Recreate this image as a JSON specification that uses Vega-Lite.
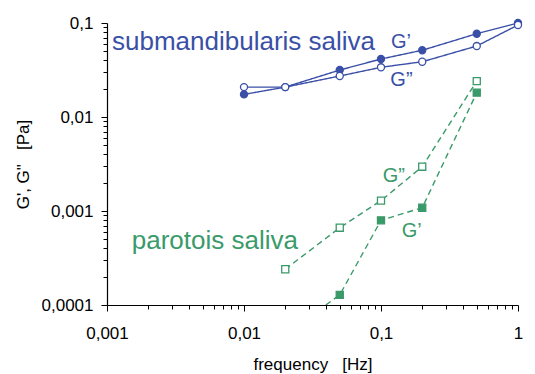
{
  "$schema": "https://vega.github.io/schema/vega-lite/v6.json",
  "width": 411,
  "height": 282,
  "autosize": "none",
  "padding": {"left": 107, "top": 23, "right": 17, "bottom": 69},
  "background": "white",
  "config": {"view": {"stroke": null}, "font": "Liberation Sans"},
  "datasets": {
    "measurements": [
      {"sample": "submandibularis", "modulus": "G'", "f": 0.01, "G": 0.0174},
      {"sample": "submandibularis", "modulus": "G'", "f": 0.02, "G": 0.0208},
      {"sample": "submandibularis", "modulus": "G'", "f": 0.05, "G": 0.0316},
      {"sample": "submandibularis", "modulus": "G'", "f": 0.1, "G": 0.0414},
      {"sample": "submandibularis", "modulus": "G'", "f": 0.2, "G": 0.0513},
      {"sample": "submandibularis", "modulus": "G'", "f": 0.5, "G": 0.0769},
      {"sample": "submandibularis", "modulus": "G'", "f": 1, "G": 0.1},
      {"sample": "submandibularis", "modulus": "G''", "f": 0.01, "G": 0.0208},
      {"sample": "submandibularis", "modulus": "G''", "f": 0.02, "G": 0.0208},
      {"sample": "submandibularis", "modulus": "G''", "f": 0.05, "G": 0.0273},
      {"sample": "submandibularis", "modulus": "G''", "f": 0.1, "G": 0.0338},
      {"sample": "submandibularis", "modulus": "G''", "f": 0.2, "G": 0.0387},
      {"sample": "submandibularis", "modulus": "G''", "f": 0.5, "G": 0.0569},
      {"sample": "submandibularis", "modulus": "G''", "f": 1, "G": 0.0952},
      {"sample": "parotois", "modulus": "G''", "f": 0.02, "G": 0.00024},
      {"sample": "parotois", "modulus": "G''", "f": 0.05, "G": 0.000664},
      {"sample": "parotois", "modulus": "G''", "f": 0.1, "G": 0.00129},
      {"sample": "parotois", "modulus": "G''", "f": 0.2, "G": 0.00296},
      {"sample": "parotois", "modulus": "G''", "f": 0.5, "G": 0.0241},
      {"sample": "parotois", "modulus": "G'", "f": 0.02, "G": 0.0000488},
      {"sample": "parotois", "modulus": "G'", "f": 0.05, "G": 0.000128},
      {"sample": "parotois", "modulus": "G'", "f": 0.1, "G": 0.000796},
      {"sample": "parotois", "modulus": "G'", "f": 0.2, "G": 0.001084},
      {"sample": "parotois", "modulus": "G'", "f": 0.5, "G": 0.01815}
    ],
    "titles": [
      {"sample": "submandibularis", "label": "submandibularis saliva", "f": 0.001088, "G": 0.0516},
      {"sample": "parotois", "label": "parotois saliva", "f": 0.001515, "G": 0.000391}
    ],
    "tags": [
      {"sample": "submandibularis", "label": "G’", "f": 0.1183, "G": 0.0538},
      {"sample": "submandibularis", "label": "G”", "f": 0.117, "G": 0.0214},
      {"sample": "parotois", "label": "G”", "f": 0.1029, "G": 0.00205},
      {"sample": "parotois", "label": "G’", "f": 0.1416, "G": 0.000525}
    ]
  },
  "encoding": {
    "x": {
      "field": "f", "type": "quantitative",
      "scale": {"type": "log", "domain": [0.001, 1], "nice": false},
      "axis": {
        "title": "frequency\u00a0\u00a0\u00a0[Hz]",
        "values": [0.001, 0.002, 0.003, 0.004, 0.005, 0.006, 0.007, 0.008, 0.009, 0.01, 0.02, 0.03, 0.04, 0.05, 0.06, 0.07, 0.08, 0.09, 0.1, 0.2, 0.3, 0.4, 0.5, 0.6, 0.7, 0.8, 0.9, 1],
        "labelExpr": "datum.value == 1 ? '1' : datum.value == 0.1 ? '0,1' : datum.value == 0.01 ? '0,01' : datum.value == 0.001 ? '0,001' : ''",
        "tickSize": {"condition": {"test": "indexof([0.001, 0.01, 0.1, 1], datum.value) >= 0", "value": 6}, "value": 4},
        "labelPadding": 14,
        "labelFontSize": 17,
        "labelColor": "#000",
        "labelOverlap": false,
        "labelBound": false,
        "labelFlush": false,
        "tickColor": "#000",
        "tickWidth": 1,
        "domainColor": "#000",
        "domainWidth": 1.2,
        "grid": false,
        "titleFontSize": 17,
        "titleFontWeight": "normal",
        "titleColor": "#000",
        "titleBaseline": "alphabetic",
        "titleY": 64
      }
    },
    "y": {
      "field": "G", "type": "quantitative",
      "scale": {"type": "log", "domain": [0.0001, 0.1], "nice": false},
      "axis": {
        "title": "G', G\"\u00a0\u00a0\u00a0[Pa]",
        "values": [0.0001, 0.0002, 0.0003, 0.0004, 0.0005, 0.0006, 0.0007, 0.0008, 0.0009, 0.001, 0.002, 0.003, 0.004, 0.005, 0.006, 0.007, 0.008, 0.009, 0.01, 0.02, 0.03, 0.04, 0.05, 0.06, 0.07, 0.08, 0.09, 0.1],
        "labelExpr": "datum.value == 0.1 ? '0,1' : datum.value == 0.01 ? '0,01' : datum.value == 0.001 ? '0,001' : datum.value == 0.0001 ? '0,0001' : ''",
        "tickSize": {"condition": {"test": "indexof([0.0001, 0.001, 0.01, 0.1], datum.value) >= 0", "value": 6}, "value": 4},
        "labelPadding": 8,
        "labelFontSize": 17,
        "labelColor": "#000",
        "labelOverlap": false,
        "labelBound": false,
        "labelFlush": false,
        "tickColor": "#000",
        "tickWidth": 1,
        "domainColor": "#000",
        "domainWidth": 1.2,
        "grid": false,
        "titleFontSize": 17,
        "titleFontWeight": "normal",
        "titleColor": "#000",
        "titleBaseline": "alphabetic",
        "titleX": -79,
        "titleY": 141
      }
    }
  },
  "layer": [
    {
      "data": {"name": "measurements"},
      "mark": {"type": "line", "clip": true, "strokeWidth": 1.4},
      "encoding": {
        "detail": {"field": "modulus", "type": "nominal"},
        "color": {"field": "sample", "type": "nominal", "scale": {"domain": ["submandibularis", "parotois"], "range": ["#3a4fa6", "#3a9a6a"]}, "legend": null},
        "strokeDash": {"field": "sample", "type": "nominal", "scale": {"domain": ["submandibularis", "parotois"], "range": [[1, 0], [6, 4]]}, "legend": null}
      }
    },
    {
      "data": {"name": "measurements"},
      "transform": [{"filter": "datum.G >= 0.0001"}],
      "mark": {"type": "point", "size": 50, "strokeWidth": 1.3, "opacity": 1},
      "encoding": {
        "shape": {"field": "sample", "type": "nominal", "scale": {"domain": ["submandibularis", "parotois"], "range": ["circle", "square"]}, "legend": null},
        "stroke": {"field": "sample", "type": "nominal", "scale": {"domain": ["submandibularis", "parotois"], "range": ["#3a4fa6", "#3a9a6a"]}, "legend": null},
        "fill": {
          "condition": {"test": "datum.modulus == \"G''\"", "value": "white"},
          "field": "sample", "type": "nominal",
          "scale": {"domain": ["submandibularis", "parotois"], "range": ["#3a4fa6", "#3a9a6a"]}, "legend": null
        }
      }
    },
    {
      "data": {"name": "titles"},
      "mark": {"type": "text", "fontSize": 26, "align": "left", "baseline": "alphabetic"},
      "encoding": {
        "text": {"field": "label"},
        "color": {"field": "sample", "type": "nominal", "legend": null}
      }
    },
    {
      "data": {"name": "tags"},
      "mark": {"type": "text", "fontSize": 20, "align": "left", "baseline": "alphabetic"},
      "encoding": {
        "text": {"field": "label"},
        "color": {"field": "sample", "type": "nominal", "legend": null}
      }
    }
  ]
}
